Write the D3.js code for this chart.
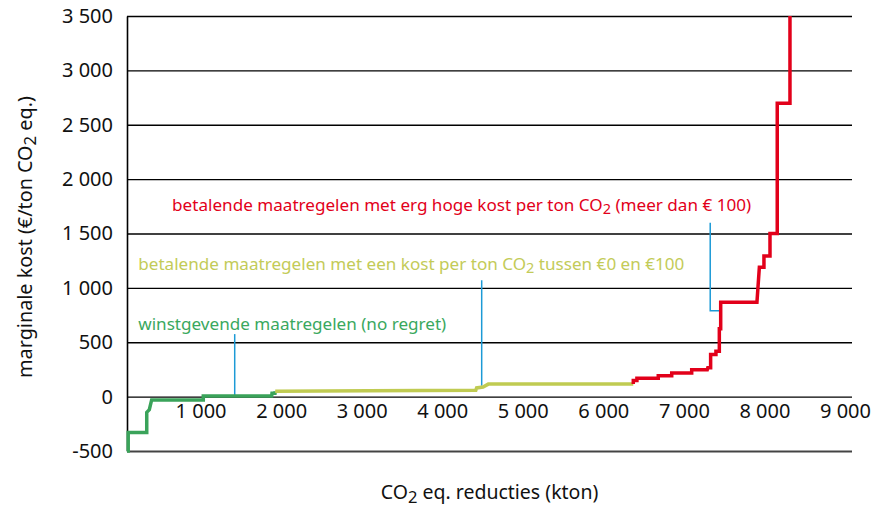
<!DOCTYPE html>
<html>
<head>
<meta charset="utf-8">
<script src="https://cdn.jsdelivr.net/npm/d3@7"></script>
<style>
  body { margin: 0; background: #fff; }
  svg { display: block; font-family: "Noto Sans", "Open Sans", sans-serif; }
</style>
</head>
<body>
<div id="chart"></div>
<script>
// marginal abatement cost curve: [kton CO2 eq., €/ton]
const green = [[0, -500], [15, -500], [15, -330], [245, -330], [245, -145], [277, -120],
  [306, -30], [947, -30], [947, 5], [1796, 5], [1800, 30], [1837, 30], [1840, 50]];
const yellow = [[1840, 50], [3000, 53], [4330, 58], [4340, 80], [4420, 88], [4485, 115], [6285, 115]];
const red = [[6285, 115], [6285, 148], [6330, 148], [6330, 169], [6595, 169], [6595, 193],
  [6762, 193], [6762, 218], [7010, 218], [7010, 246], [7203, 246], [7210, 265], [7245, 265],
  [7245, 387], [7311, 387], [7311, 417], [7353, 417], [7353, 623], [7370, 623], [7370, 868],
  [7820, 868], [7850, 1190], [7907, 1190], [7907, 1293], [7982, 1293], [7982, 1500],
  [8072, 1500], [8072, 2697], [8230, 2697], [8230, 3500]];

const xTicks = [1000, 2000, 3000, 4000, 5000, 6000, 7000, 8000, 9000];
const yTicks = [-500, 0, 500, 1000, 1500, 2000, 2500, 3000, 3500];

// callout leaders: [x, yTop, yBottom] in data units
const leaders = [
  { x: 1337, y0: 575, y1: 10 },
  { x: 4403, y0: 1070, y1: 100 },
  { x: 7240, y0: 1600, y1: 790, xEnd: 7370 }
];

const labels = [
  { parts: ["winstgevende maatregelen (no regret)"], x: 140, y: 672, color: "#3aa85e" },
  { parts: ["betalende maatregelen met een kost per ton CO", "2", " tussen €0 en €100"], x: 140, y: 1220, color: "#c3cb58" },
  { parts: ["betalende maatregelen met erg hoge kost per ton CO", "2", " (meer dan € 100)"], x: 560, y: 1765, color: "#e2001a" }
];

const width = 876;
const height = 508;
const marginLeft = 127;
const marginRight = 24;
const marginTop = 16;
const marginBottom = 57;

const fmt = d3.formatLocale({ decimal: ",", thousands: " ", grouping: [3], currency: ["€", ""], minus: "-" }).format(",d");

const x = d3.scaleLinear().domain([0, 9000]).range([marginLeft, width - marginRight]);
const y = d3.scaleLinear().domain([-500, 3500]).range([height - marginBottom, marginTop]);

const svg = d3.create("svg")
  .attr("width", width)
  .attr("height", height)
  .attr("viewBox", [0, 0, width, height]);

// grid + y labels
const gy = svg.append("g")
  .attr("transform", `translate(${marginLeft},0)`)
  .call(d3.axisLeft(y).tickValues(yTicks).tickFormat(fmt)
    .tickSizeInner(-(width - marginLeft - marginRight)).tickSizeOuter(0).tickPadding(14));
gy.select(".domain").attr("stroke", "#000").attr("stroke-width", 1.6);
gy.selectAll(".tick line")
  .attr("stroke", d => d === -500 ? "#444" : "#000")
  .attr("stroke-width", d => d === -500 ? 2 : 1.4);
gy.selectAll(".tick text")
  .attr("font-size", 20)
  .attr("font-family", "Noto Sans, sans-serif")
  .attr("fill", "#111");

// x labels (sit just under the zero line)
const gx = svg.append("g")
  .attr("transform", `translate(0,${y(0)})`)
  .call(d3.axisBottom(x).tickValues(xTicks).tickFormat(fmt).tickSize(0).tickPadding(7));
gx.select(".domain").remove();
gx.selectAll(".tick text")
  .attr("dx", -7)
  .attr("font-size", 20)
  .attr("font-family", "Noto Sans, sans-serif")
  .attr("fill", "#111");

// callout leaders
const gLead = svg.append("g")
  .attr("fill", "none")
  .attr("stroke", "#1c9ad6")
  .attr("stroke-width", 1.5);
leaders.forEach(l => {
  const pts = [[l.x, l.y0], [l.x, l.y1]];
  if (l.xEnd) pts.push([l.xEnd, l.y1]);
  gLead.append("path").attr("d", d3.line().x(d => x(d[0])).y(d => y(d[1]))(pts));
});

// curve
const line = d3.line().x(d => x(d[0])).y(d => y(d[1]));
const series = [
  { data: green, color: "#3aa35a" },
  { data: yellow, color: "#c0cb52" },
  { data: red, color: "#e2001a" }
];
svg.append("g")
  .attr("fill", "none")
  .attr("stroke-width", 3.5)
  .attr("stroke-linejoin", "miter")
  .selectAll("path")
  .data(series)
  .join("path")
  .attr("stroke", d => d.color)
  .attr("d", d => line(d.data));

// annotations
function richText(g, parts, size) {
  parts.forEach((p, i) => {
    if (i % 2 === 1) {
      g.append("tspan").attr("font-size", size * 0.85).attr("dy", size * 0.18).text(p);
    } else {
      const t = g.append("tspan").text(p);
      if (i > 0) t.attr("dy", -size * 0.18);
    }
  });
}

labels.forEach(l => {
  const t = svg.append("text")
    .attr("x", x(l.x))
    .attr("y", y(l.y))
    .attr("dy", "0.35em")
    .attr("font-size", 17.1)
    .attr("fill", l.color);
  richText(t, l.parts, 17.1);
});

// axis titles
const xt = svg.append("text")
  .attr("x", (marginLeft + width - marginRight) / 2)
  .attr("y", 499)
  .attr("text-anchor", "middle")
  .attr("font-size", 19.5)
  .attr("fill", "#111");
richText(xt, ["CO", "2", " eq. reducties (kton)"], 19.5);

const yt = svg.append("text")
  .attr("transform", "translate(32,237) rotate(-90)")
  .attr("text-anchor", "middle")
  .attr("font-size", 19.8)
  .attr("fill", "#111");
richText(yt, ["marginale kost (€/ton CO", "2", " eq.)"], 19.8);

document.getElementById("chart").appendChild(svg.node());
</script>
</body>
</html>
